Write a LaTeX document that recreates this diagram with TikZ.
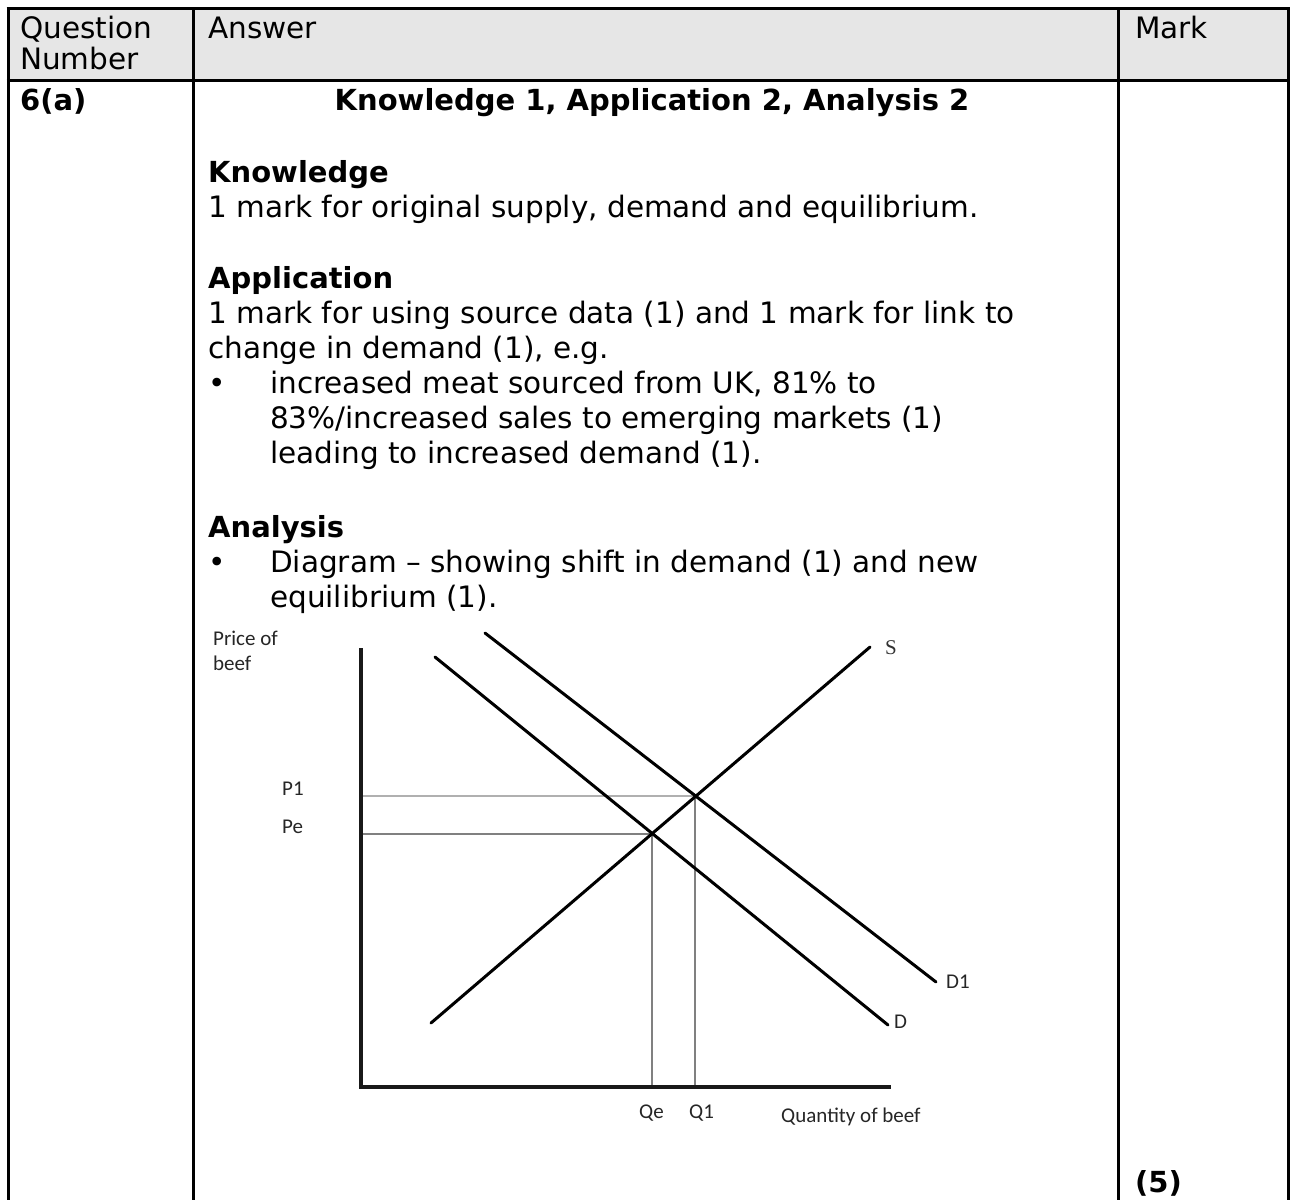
\documentclass[tikz,border=0pt]{standalone}
\usepackage{fontspec}
\setmainfont{DejaVu Sans}
\newfontfamily\calfont{Carlito}
\newfontfamily\serffont{Liberation Serif}
\definecolor{headgray}{HTML}{E6E6E6}
\definecolor{lightguide}{HTML}{B0B0B0}
\definecolor{darkguide}{HTML}{808080}
\begin{document}
\begin{tikzpicture}[x=1pt,y=-1pt,
  body/.style={anchor=base west, inner sep=0pt, font=\fontsize{29.5}{35}\selectfont},
  bodyb/.style={anchor=base west, inner sep=0pt, font=\fontsize{29}{35}\selectfont\bfseries},
  glab/.style={anchor=base west, inner sep=0pt, font=\calfont\fontsize{21}{25}\selectfont, text=black!85},
  rule/.style={line width=3pt},
  axisline/.style={line width=3.5pt, black!90},
  curve/.style={line width=3pt, line cap=round},
  guideA/.style={line width=1.5pt, lightguide},
  guideB/.style={line width=1.5pt, darkguide}]
\useasboundingbox (0,0) rectangle (1293,1200);
\fill[white] (0,0) rectangle (1293,1200);
% table
\fill[headgray] (8,8) rectangle (1288,80);
\draw[rule] (6.5,8) -- (1289.5,8);
\draw[rule] (6.5,80) -- (1289.5,80);
\draw[rule] (8,8) -- (8,1200);
\draw[rule] (193,8) -- (193,1200);
\draw[rule] (1118,8) -- (1118,1200);
\draw[rule] (1288,8) -- (1288,1200);
% header
\node[body] (hq) at (20,38) {Question};
\node[body] (hn) at (20,69) {Number};
\node[body] (ha) at (208,38) {Answer};
\node[body] (hm) at (1135,38) {Mark};
% row
\node[bodyb] (qn) at (20,110) {6(a)};
\node[bodyb, anchor=base] (title) at (652,110) {Knowledge 1, Application 2, Analysis 2};
\node[bodyb] (kh) at (208,182) {Knowledge};
\node[body] (k1) at (208,217) {1 mark for original supply, demand and equilibrium.};
\node[bodyb] (ah) at (208,288) {Application};
\node[body] (a1) at (208,323) {1 mark for using source data (1) and 1 mark for link to};
\node[body] (a2) at (208,358) {change in demand (1), e.g.};
\node[body] (b1) at (208,393) {•};
\node[body] (a3) at (270,393) {increased meat sourced from UK, 81\% to};
\node[body] (a4) at (270,428) {83\%/increased sales to emerging markets (1)};
\node[body] (a5) at (270,463) {leading to increased demand (1).};
\node[bodyb] (anh) at (208,537) {Analysis};
\node[body] (b2) at (208,572) {•};
\node[body] (an1) at (270,572) {Diagram – showing shift in demand (1) and new};
\node[body] (an2) at (270,607) {equilibrium (1).};
\node[bodyb] (mk) at (1135,1192) {(5)};
% graph
\coordinate (yt) at (361,648);
\coordinate (o) at (361,1087);
\coordinate (xr) at (891,1087);
\coordinate (s0) at (431,1023);
\coordinate (s1) at (870,647);
\coordinate (d0) at (435,657);
\coordinate (d1) at (888,1025);
\coordinate (e0) at (485,633);
\coordinate (e1) at (936,982);
\coordinate (eq0) at (652,834);
\coordinate (eq1) at (695,796);
\draw[guideA] (361,796) -- (eq1);
\draw[guideB] (361,834) -- (eq0);
\draw[guideB, line width=1.2pt] (eq0) -- (652,1087);
\draw[guideB, line width=1.2pt] (eq1) -- (695,1087);
\draw[axisline] (yt) -- (o) -- (xr);
\draw[curve] (s0) -- (s1);
\draw[curve] (d0) -- (d1);
\draw[curve] (e0) -- (e1);
\node[glab] (pl1) at (213,645) {Price of};
\node[glab] (pl2) at (213,670) {beef};
\node[glab] (p1) at (282,795) {P1};
\node[glab] (pe) at (282,833) {Pe};
\node[glab] (qe) at (639,1118) {Qe};
\node[glab] (q1) at (689,1118) {Q1};
\node[glab] (ql) at (781,1122) {Quantity of beef};
\node[glab] (dl1) at (946,988) {D1};
\node[glab] (dl) at (894,1028) {D};
\node[anchor=base west, inner sep=0pt, font=\serffont\fontsize{21}{25}\selectfont, text=black!80] (sl) at (885,654) {S};
\end{tikzpicture}
\end{document}
